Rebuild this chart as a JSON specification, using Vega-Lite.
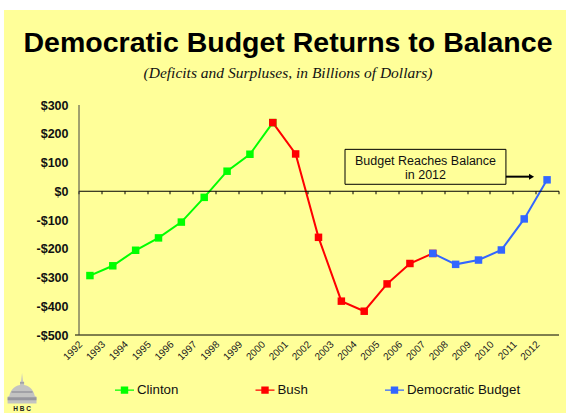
{
  "$schema": "https://vega.github.io/schema/vega-lite/v6.json",
  "width": 480,
  "height": 230,
  "autosize": {"type": "none"},
  "padding": {"left": 78.5, "top": 104.5, "right": 7.5, "bottom": 78.5},
  "background": "white",
  "config": {"view": {"stroke": null}, "font": "Liberation Sans"},
  "title": {
    "text": "Democratic Budget Returns to Balance",
    "subtitle": "(Deficits and Surpluses, in Billions of Dollars)",
    "anchor": "middle",
    "frame": "group",
    "dx": -30.5,
    "offset": -71.5,
    "font": "Liberation Sans",
    "fontSize": 28.5,
    "fontWeight": "bold",
    "color": "#000000",
    "subtitleFont": "Liberation Serif",
    "subtitleFontSize": 15.5,
    "subtitleFontStyle": "italic",
    "subtitleColor": "#111111",
    "subtitlePadding": 8
  },
  "datasets": {
    "budget": [
      {"year": 1992, "balance": -295, "era": "Clinton"},
      {"year": 1993, "balance": -261, "era": "Clinton"},
      {"year": 1994, "balance": -207, "era": "Clinton"},
      {"year": 1995, "balance": -164, "era": "Clinton"},
      {"year": 1996, "balance": -109, "era": "Clinton"},
      {"year": 1997, "balance": -23, "era": "Clinton"},
      {"year": 1998, "balance": 68, "era": "Clinton"},
      {"year": 1999, "balance": 127, "era": "Clinton"},
      {"year": 2000, "balance": 237, "era": "Clinton"},
      {"year": 2000, "balance": 237, "era": "Bush"},
      {"year": 2001, "balance": 128, "era": "Bush"},
      {"year": 2002, "balance": -162, "era": "Bush"},
      {"year": 2003, "balance": -384, "era": "Bush"},
      {"year": 2004, "balance": -419, "era": "Bush"},
      {"year": 2005, "balance": -324, "era": "Bush"},
      {"year": 2006, "balance": -253, "era": "Bush"},
      {"year": 2007, "balance": -218, "era": "Bush"},
      {"year": 2007, "balance": -218, "era": "Democratic Budget"},
      {"year": 2008, "balance": -256, "era": "Democratic Budget"},
      {"year": 2009, "balance": -241, "era": "Democratic Budget"},
      {"year": 2010, "balance": -206, "era": "Democratic Budget"},
      {"year": 2011, "balance": -98, "era": "Democratic Budget"},
      {"year": 2012, "balance": 38, "era": "Democratic Budget"}
    ]
  },
  "data": {"name": "budget"},
  "resolve": {"axis": {"x": "independent", "y": "independent"}, "legend": {"color": "independent"}},
  "layer": [
    {
      "description": "Pale yellow slide panel behind everything",
      "data": {"values": [{"panel": "slide"}]},
      "mark": {"type": "rect", "color": "#FFFF99"},
      "encoding": {
        "x": {"datum": 1988.24, "type": "quantitative", "scale": {"domain": [1991.5, 2012.5]}, "axis": null},
        "x2": {"datum": 2012.85},
        "y": {"datum": 628.7, "type": "quantitative", "scale": {"domain": [-500, 300]}, "axis": null},
        "y2": {"datum": -775}
      }
    },
    {
      "description": "Capitol dome emblem",
      "data": {"values": [{"panel": "emblem"}]},
      "mark": {
        "type": "point", "filled": true, "opacity": 0.9, "color": "#BDBDC6", "size": 1156,
        "shape": "M0,-1 L.05,-.55 L.12,-.45 L.12,-.3 C.5,-.25 .72,.1 .75,.35 L.85,.4 L.85,.8 L-.85,.8 L-.85,.4 L-.75,.35 C-.72,.1 -.5,-.25 -.12,-.3 L-.12,-.45 L-.05,-.55 Z"
      },
      "encoding": {
        "x": {"datum": 1989.03, "type": "quantitative", "scale": {"domain": [1991.5, 2012.5]}, "axis": null},
        "y": {"datum": -693, "type": "quantitative", "scale": {"domain": [-500, 300]}, "axis": null}
      }
    },
    {
      "description": "Darker bands on the dome",
      "data": {"values": [{"panel": "emblem"}]},
      "mark": {
        "type": "point", "filled": true, "opacity": 0.7, "color": "#85858F", "size": 1156,
        "shape": "M-.85,.42H.85V.6H-.85Z M-.62,.08H.62V.16H-.62Z M-.12,-.45H.12V-.38H-.12Z"
      },
      "encoding": {
        "x": {"datum": 1989.03, "type": "quantitative", "scale": {"domain": [1991.5, 2012.5]}, "axis": null},
        "y": {"datum": -693, "type": "quantitative", "scale": {"domain": [-500, 300]}, "axis": null}
      }
    },
    {
      "data": {"values": [{"tag": "H B C"}]},
      "mark": {"type": "text", "font": "Liberation Sans", "fontWeight": "bold", "fontSize": 6.5, "color": "#222222"},
      "encoding": {
        "text": {"field": "tag"},
        "x": {"datum": 1989.03, "type": "quantitative", "scale": {"domain": [1991.5, 2012.5]}, "axis": null},
        "y": {"datum": -760, "type": "quantitative", "scale": {"domain": [-500, 300]}, "axis": null}
      }
    },
    {
      "description": "Series lines; this layer also carries the value axis and the year labels along the bottom edge",
      "mark": {"type": "line", "strokeWidth": 2},
      "encoding": {
        "x": {
          "field": "year", "type": "quantitative", "scale": {"domain": [1991.5, 2012.5]},
          "axis": {
            "orient": "bottom", "title": null, "grid": false, "zindex": 1,
            "values": [1992,1993,1994,1995,1996,1997,1998,1999,2000,2001,2002,2003,2004,2005,2006,2007,2008,2009,2010,2011,2012],
            "format": "d", "labelAngle": -45, "labelAlign": "right", "labelBaseline": "middle",
            "labelFont": "Liberation Sans", "labelFontSize": 10, "labelColor": "#222222",
            "labelPadding": 8, "labelOffset": -9.5, "labelOverlap": false, "labelBound": false, "labelFlush": false,
            "ticks": false, "domain": true, "domainColor": "#000000", "domainWidth": 1
          }
        },
        "y": {
          "field": "balance", "type": "quantitative", "scale": {"domain": [-500, 300]},
          "axis": {
            "title": null, "grid": false, "zindex": 1,
            "values": [-500,-400,-300,-200,-100,0,100,200,300],
            "labelExpr": "(datum.value < 0 ? '-' : '') + '$' + abs(datum.value)",
            "labelFont": "Liberation Sans", "labelFontSize": 12.5, "labelFontWeight": "bold", "labelColor": "#111111",
            "labelPadding": 6.5, "labelOffset": 0.5, "tickSize": 4, "tickColor": "#000000",
            "tickOpacity": {"expr": "datum.value == -500 ? 1 : 0"},
            "domainColor": "#444444", "domainWidth": 1
          }
        },
        "color": {"field": "era", "type": "nominal", "sort": null,
          "scale": {"domain": ["Clinton", "Bush", "Democratic Budget"], "range": ["#00FF00", "#FF0000", "#3366FF"]},
          "legend": null},
        "order": {"field": "year"}
      }
    },
    {
      "description": "Square markers, the legend, and the tick marks of the zero line",
      "mark": {"type": "point", "shape": "square", "filled": true, "size": 56, "opacity": 1},
      "encoding": {
        "x": {
          "field": "year", "type": "quantitative", "scale": {"domain": [1991.5, 2012.5]},
          "axis": {
            "orient": "bottom", "offset": -143.75, "title": null, "grid": false, "zindex": 1,
            "values": [1991.5,1992.5,1993.5,1994.5,1995.5,1996.5,1997.5,1998.5,1999.5,2000.5,2001.5,2002.5,2003.5,2004.5,2005.5,2006.5,2007.5,2008.5,2009.5,2010.5,2011.5,2012.5],
            "labels": false, "tickSize": 3, "tickColor": "#000000", "domainColor": "#000000", "domainWidth": 1
          }
        },
        "y": {"field": "balance", "type": "quantitative", "scale": {"domain": [-500, 300]}, "axis": null},
        "color": {"field": "era", "type": "nominal", "sort": null,
          "scale": {"domain": ["Clinton", "Bush", "Democratic Budget"], "range": ["#00FF00", "#FF0000", "#3366FF"]},
          "legend": {
            "title": null, "orient": "none", "direction": "horizontal", "legendX": 36.5, "legendY": 276,
            "columns": 3, "columnPadding": 76.5,
            "symbolType": "M-1,-.07H-.39V-.39H.39V-.07H1V.07H.39V.39H-.39V.07H-1Z",
            "symbolSize": 361, "symbolStrokeWidth": 0, "symbolOpacity": 1,
            "labelFont": "Liberation Sans", "labelFontSize": 13.3, "labelColor": "#111111", "labelOffset": 3
          }
        }
      }
    },
    {
      "description": "Callout box",
      "data": {"values": [{"note": "Budget Reaches Balance\nin 2012"}]},
      "mark": {"type": "rect", "fill": "#FFFF99", "stroke": "#000000", "strokeWidth": 1},
      "encoding": {
        "x": {"datum": 2003.16, "type": "quantitative", "scale": {"domain": [1991.5, 2012.5]}, "axis": null},
        "x2": {"datum": 2010.2},
        "y": {"datum": 144, "type": "quantitative", "scale": {"domain": [-500, 300]}, "axis": null},
        "y2": {"datum": 22.5}
      }
    },
    {
      "data": {"values": [{"note": "Budget Reaches Balance\nin 2012"}]},
      "mark": {"type": "text", "lineBreak": "\n", "font": "Liberation Sans", "fontSize": 12.5, "lineHeight": 14.3, "color": "#111111"},
      "encoding": {
        "text": {"field": "note"},
        "x": {"datum": 2006.68, "type": "quantitative", "scale": {"domain": [1991.5, 2012.5]}, "axis": null},
        "y": {"datum": 104.5, "type": "quantitative", "scale": {"domain": [-500, 300]}, "axis": null}
      }
    },
    {
      "description": "Arrow shaft from the callout toward the 2012 point",
      "data": {"values": [{"note": "arrow"}]},
      "mark": {"type": "rule", "color": "#000000", "strokeWidth": 2},
      "encoding": {
        "x": {"datum": 2010.2, "type": "quantitative", "scale": {"domain": [1991.5, 2012.5]}, "axis": null},
        "x2": {"datum": 2011.3},
        "y": {"datum": 49, "type": "quantitative", "scale": {"domain": [-500, 300]}, "axis": null}
      }
    },
    {
      "description": "Arrow head",
      "data": {"values": [{"note": "arrow"}]},
      "mark": {"type": "point", "filled": true, "color": "#000000", "opacity": 1, "size": 36, "shape": "M-.7,-1 L1,0 L-.7,1 Z"},
      "encoding": {
        "x": {"datum": 2011.3, "type": "quantitative", "scale": {"domain": [1991.5, 2012.5]}, "axis": null},
        "y": {"datum": 49, "type": "quantitative", "scale": {"domain": [-500, 300]}, "axis": null}
      }
    }
  ]
}
